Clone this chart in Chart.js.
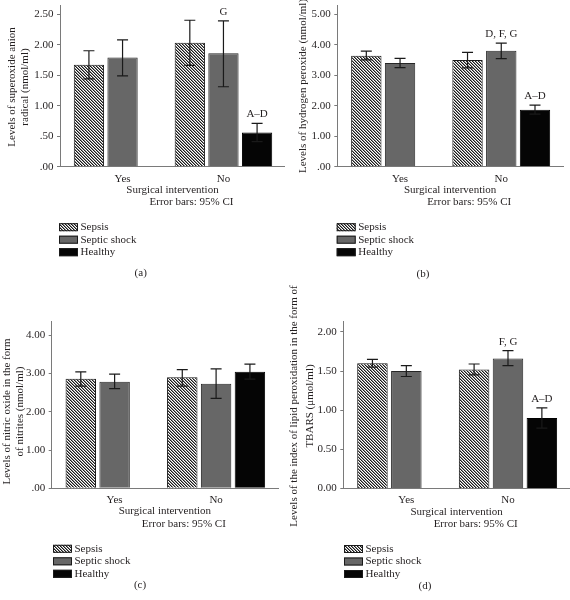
<!DOCTYPE html>
<html><head><meta charset="utf-8">
<script src="https://cdn.jsdelivr.net/npm/chart.js@4.4.1/dist/chart.umd.min.js"></script>
<style>
html,body{margin:0;padding:0;background:#fff;}
#wrap{position:relative;width:570px;height:600px;overflow:hidden;background:#fff;}
canvas{position:absolute;}
</style></head><body>
<div id="wrap">
<canvas id="ca" width="285" height="300" style="left:0;top:0"></canvas>
<canvas id="cb" width="285" height="300" style="left:285px;top:0"></canvas>
<canvas id="cc" width="285" height="330" style="left:0;top:270px"></canvas>
<canvas id="cd" width="285" height="330" style="left:285px;top:270px"></canvas>
</div>
<script>
// ---------- data ----------
const categories = ['Yes', 'No'];
const seriesNames = ['Sepsis', 'Septic shock', 'Healthy'];
const xTitle = 'Surgical intervention';
const errorNote = 'Error bars: 95% CI';

// (a) superoxide anion radical
const aSepsis = [1.67, 2.03];
const aSepsisLo = [1.44, 1.66];
const aSepsisHi = [1.90, 2.40];
const aShock = [1.79, 1.86];
const aShockLo = [1.49, 1.31];
const aShockHi = [2.08, 2.39];
const aHealthy = [null, 0.56];
const aHealthyLo = [null, 0.41];
const aHealthyHi = [null, 0.71];
const aShockNotes = ['', 'G'];
const aHealthyNotes = ['', 'A\u2013D'];
const aTicks = [0, 0.5, 1, 1.5, 2, 2.5];
const aTickLabels = ['.00', '.50', '1.00', '1.50', '2.00', '2.50'];
const aYTitle = ['Levels of superoxide anion', 'radical (nmol/ml)'];

// (b) hydrogen peroxide
const bSepsis = [3.64, 3.50];
const bSepsisLo = [3.50, 3.24];
const bSepsisHi = [3.79, 3.75];
const bShock = [3.40, 3.80];
const bShockLo = [3.25, 3.54];
const bShockHi = [3.55, 4.05];
const bHealthy = [null, 1.87];
const bHealthyLo = [null, 1.72];
const bHealthyHi = [null, 2.02];
const bShockNotes = ['', 'D, F, G'];
const bHealthyNotes = ['', 'A\u2013D'];
const bTicks = [0, 1, 2, 3, 4, 5];
const bTickLabels = ['.00', '1.00', '2.00', '3.00', '4.00', '5.00'];
const bYTitle = ['Levels of hydrogen peroxide (nmol/ml)'];

// (c) nitric oxide (nitrites)
const cSepsis = [2.86, 2.90];
const cSepsisLo = [2.67, 2.67];
const cSepsisHi = [3.04, 3.10];
const cShock = [2.78, 2.73];
const cShockLo = [2.60, 2.35];
const cShockHi = [2.98, 3.12];
const cHealthy = [null, 3.04];
const cHealthyLo = [null, 2.85];
const cHealthyHi = [null, 3.24];
const cShockNotes = ['', ''];
const cHealthyNotes = ['', ''];
const cTicks = [0, 1, 2, 3, 4];
const cTickLabels = ['.00', '1.00', '2.00', '3.00', '4.00'];
const cYTitle = ['Levels of nitric oxide in the form', 'of nitrites (nmol/ml)'];

// (d) lipid peroxidation (TBARS)
const dSepsis = [1.60, 1.52];
const dSepsisLo = [1.55, 1.45];
const dSepsisHi = [1.65, 1.59];
const dShock = [1.50, 1.66];
const dShockLo = [1.43, 1.57];
const dShockHi = [1.57, 1.76];
const dHealthy = [null, 0.90];
const dHealthyLo = [null, 0.77];
const dHealthyHi = [null, 1.03];
const dShockNotes = ['', 'F, G'];
const dHealthyNotes = ['', 'A\u2013D'];
const dTicks = [0, 0.5, 1, 1.5, 2];
const dTickLabels = ['0.00', '0.50', '1.00', '1.50', '2.00'];
const dYTitle = ['Levels of the index of lipid peroxidation in the form of', 'TBARS (\u03bcmol/ml)'];

// ---------- styling ----------
const FAMILY = '"Liberation Serif", "Times New Roman", serif';
const TXT = '#231f20';
const AXIS = '#7a7a7a';
const FONT = {family: FAMILY, size: 11, lineHeight: 1.2};

function makeHatch(ctx) {
  const t = document.createElement('canvas');
  t.width = 3; t.height = 3;
  const g = t.getContext('2d');
  const img = g.createImageData(3, 3);
  for (let y = 0; y < 3; y++) for (let x = 0; x < 3; x++) {
    const k = ((x - y) % 3 + 3) % 3;
    const v = k === 0 ? 25 : (k === 1 ? 140 : 255);
    const o = (y * 3 + x) * 4;
    img.data[o] = v; img.data[o + 1] = v; img.data[o + 2] = v; img.data[o + 3] = 255;
  }
  g.putImageData(img, 0, 0);
  return ctx.createPattern(t, 'repeat');
}

const errPlugin = {
  id: 'errbars',
  afterDatasetsDraw(chart) {
    const c = chart.ctx, ys = chart.scales.y;
    chart.data.datasets.forEach((ds, di) => {
      const meta = chart.getDatasetMeta(di);
      meta.data.forEach((bar, j) => {
        const xi = meta.controller.getParsed(j).x;
        const lo = ds.lo[xi], hi = ds.hi[xi];
        if (lo == null || hi == null) return;
        const x = bar.x, y1 = ys.getPixelForValue(lo), y2 = ys.getPixelForValue(hi);
        c.save();
        c.strokeStyle = '#1a1a1a'; c.lineWidth = 1.2;
        c.beginPath();
        c.moveTo(x, y1); c.lineTo(x, y2);
        c.moveTo(x - 5.5, y1); c.lineTo(x + 5.5, y1);
        c.moveTo(x - 5.5, y2); c.lineTo(x + 5.5, y2);
        c.stroke();
        const note = ds.notes ? ds.notes[xi] : '';
        if (note) {
          c.fillStyle = TXT; c.font = '11px ' + FAMILY;
          c.textAlign = 'center'; c.textBaseline = 'middle';
          c.fillText(note, x, y2 - 9);
        }
        c.restore();
      });
    });
  }
};

const decorPlugin = {
  id: 'decor',
  afterDraw(chart, args, o) {
    const c = chart.ctx, a = chart.chartArea;
    c.save();
    c.fillStyle = TXT;
    c.font = '11px ' + FAMILY;
    c.textAlign = 'center'; c.textBaseline = 'middle';
    o.yTitle.forEach((line, i) => {
      c.save();
      c.translate(o.yTitleX[i], o.yTitleY);
      c.rotate(-Math.PI / 2);
      c.fillText(line, 0, 0);
      c.restore();
    });
    c.fillText(errorNote, (a.left + a.right) / 2 + 19, a.bottom + 35.5);
    const rows = [60.5, 73, 85.5];
    chart.data.datasets.forEach((ds, i) => {
      const y = a.bottom + rows[i];
      const x = a.left + o.legendDx;
      c.fillStyle = ds.backgroundColor;
      c.fillRect(x, y - 4, 19, 8);
      c.strokeStyle = '#1a1a1a'; c.lineWidth = 1;
      c.strokeRect(x + 0.5, y - 3.5, 18, 7);
      c.fillStyle = TXT; c.textAlign = 'left';
      c.fillText(ds.label, x + 21.5, y);
    });
    c.textAlign = 'center';
    c.fillText(o.panel, o.panelX, o.panelY);
    c.restore();
  }
};

function makePanel(id, p) {
  const canvas = document.getElementById(id);
  const ctx = canvas.getContext('2d');
  const H = canvas.height, W = canvas.width;
  const toPts = arr => arr.map((v, i) => v == null ? null : {x: i, y: v}).filter(Boolean);
  const datasets = [
    {label: seriesNames[0], data: toPts(p.sepsis), lo: p.sepsisLo, hi: p.sepsisHi, notes: null,
     backgroundColor: makeHatch(ctx), borderColor: '#1a1a1a', borderWidth: 1},
    {label: seriesNames[1], data: toPts(p.shock), lo: p.shockLo, hi: p.shockHi, notes: p.shockNotes,
     backgroundColor: '#676767', borderColor: '#262626', borderWidth: 1},
    {label: seriesNames[2], data: toPts(p.healthy), lo: p.healthyLo, hi: p.healthyHi, notes: p.healthyNotes,
     backgroundColor: '#050505', borderColor: '#000000', borderWidth: 1}
  ];
  const pb = H - (p.bottom + 23.3) - 6.6;
  new Chart(canvas, {
    type: 'bar',
    data: {datasets},
    options: {
      responsive: false, animation: false,
      devicePixelRatio: 1,
      categoryPercentage: 1.0, barPercentage: 0.9,
      layout: {padding: {left: 0, right: W - p.right, top: p.top, bottom: 0}},
      plugins: {legend: {display: false}, tooltip: {enabled: false},
        decor: {yTitle: p.yTitle, yTitleX: p.yTitleX, yTitleY: p.yTitleY, panel: p.panel,
                panelX: p.panelX, panelY: p.panelY, legendDx: p.legendDx}},
      scales: {
        x: {
          type: 'linear', min: -0.62, max: 1.61, bounds: 'data', offset: false,
          afterBuildTicks: s => { s.ticks = categories.map((c, i) => ({value: i})); },
          ticks: {callback: v => categories[v], font: FONT, color: TXT, padding: 5.5, autoSkip: false, maxRotation: 0},
          grid: {display: false, drawTicks: false, offset: false},
          border: {display: true, color: AXIS, width: 1},
          title: {display: true, text: xTitle, font: FONT, color: TXT, padding: {top: 0, bottom: pb}},
          afterFit: s => { s.height = H - p.bottom; s.paddingLeft = 0; s.paddingRight = 0; }
        },
        y: {
          min: 0, max: p.yMax, bounds: 'data',
          afterBuildTicks: s => { s.ticks = p.ticks.map(v => ({value: v})); },
          ticks: {callback: (v) => p.tickLabels[p.ticks.indexOf(v)], font: FONT, color: TXT, padding: 3.5, autoSkip: false},
          grid: {display: true, drawOnChartArea: false, drawTicks: true, tickLength: 3, color: AXIS},
          border: {display: true, color: AXIS, width: 1},
          afterFit: s => { s.width = p.left; s.paddingTop = 0; s.paddingBottom = 0; }
        }
      }
    },
    plugins: [errPlugin, decorPlugin]
  });
}

makePanel('ca', {sepsis: aSepsis, sepsisLo: aSepsisLo, sepsisHi: aSepsisHi, shock: aShock, shockLo: aShockLo, shockHi: aShockHi,
  healthy: aHealthy, healthyLo: aHealthyLo, healthyHi: aHealthyHi, shockNotes: aShockNotes, healthyNotes: aHealthyNotes,
  ticks: aTicks, tickLabels: aTickLabels, yMax: 2.65, yTitle: aYTitle, yTitleX: [12, 25], yTitleY: 87,
  left: 60, right: 285, top: 5, bottom: 166.7, panel: '(a)', panelX: 140.7, panelY: 273, legendDx: -1});

makePanel('cb', {sepsis: bSepsis, sepsisLo: bSepsisLo, sepsisHi: bSepsisHi, shock: bShock, shockLo: bShockLo, shockHi: bShockHi,
  healthy: bHealthy, healthyLo: bHealthyLo, healthyHi: bHealthyHi, shockNotes: bShockNotes, healthyNotes: bHealthyNotes,
  ticks: bTicks, tickLabels: bTickLabels, yMax: 5.3, yTitle: bYTitle, yTitleX: [18], yTitleY: 86,
  left: 52.3, right: 278, top: 5, bottom: 166.7, panel: '(b)', panelX: 138, panelY: 274, legendDx: -0.6});

makePanel('cc', {sepsis: cSepsis, sepsisLo: cSepsisLo, sepsisHi: cSepsisHi, shock: cShock, shockLo: cShockLo, shockHi: cShockHi,
  healthy: cHealthy, healthyLo: cHealthyLo, healthyHi: cHealthyHi, shockNotes: cShockNotes, healthyNotes: cHealthyNotes,
  ticks: cTicks, tickLabels: cTickLabels, yMax: 4.35, yTitle: cYTitle, yTitleX: [7.3, 20.5], yTitleY: 141.5,
  left: 51.7, right: 278, top: 51.7, bottom: 218.3, panel: '(c)', panelX: 140, panelY: 315, legendDx: 1.3});

makePanel('cd', {sepsis: dSepsis, sepsisLo: dSepsisLo, sepsisHi: dSepsisHi, shock: dShock, shockLo: dShockLo, shockHi: dShockHi,
  healthy: dHealthy, healthyLo: dHealthyLo, healthyHi: dHealthyHi, shockNotes: dShockNotes, healthyNotes: dHealthyNotes,
  ticks: dTicks, tickLabels: dTickLabels, yMax: 2.13, yTitle: dYTitle, yTitleX: [9, 25], yTitleY: 136,
  left: 58.3, right: 285, top: 51.7, bottom: 218.5, panel: '(d)', panelX: 140, panelY: 316, legendDx: 0.7});
</script>
</body></html>
